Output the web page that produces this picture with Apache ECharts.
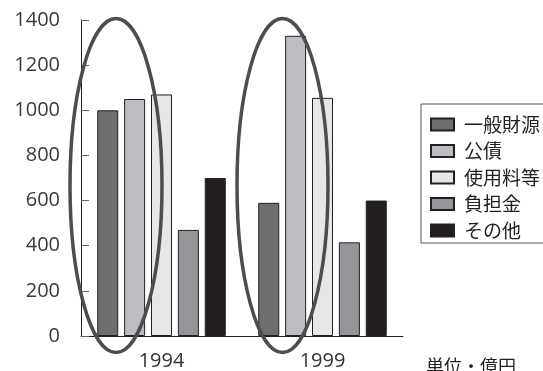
<!DOCTYPE html>
<html>
<head>
<meta charset="utf-8">
<script src="https://cdn.jsdelivr.net/npm/echarts@6/dist/echarts.min.js"></script>
<style>
html,body{margin:0;padding:0;background:#fff;}
#chart{width:543px;height:371px;}
</style>
</head>
<body>
<div id="chart"></div>
<script>
const categories = ['1994', '1999'];
const seriesNames = ['一般財源', '公債', '使用料等', '負担金', 'その他'];
const ippanZaigen = [1000, 590];
const kousai = [1050, 1330];
const shiyouryou = [1070, 1055];
const futankin = [470, 415];
const sonota = [700, 600];
const yTicks = [0, 200, 400, 600, 800, 1000, 1200, 1400];
const unitLabel = '単位・億円';

const seriesValues = [ippanZaigen, kousai, shiyouryou, futankin, sonota];
const colors = ['#6d6e70', '#bcbdc0', '#e6e7e8', '#939598', '#231f20'];

const chart = echarts.init(document.getElementById('chart'));
const numFont = '"Open Sans", "Noto Sans", sans-serif';
const jpFont = '"Noto Sans CJK JP", sans-serif';

chart.setOption({
  animation: false,
  backgroundColor: '#ffffff',
  grid: { left: 81, right: 140, top: 20, bottom: 35 },
  legend: {
    orient: 'vertical',
    left: 421,
    top: 104,
    padding: [11, 14, 3, 9],
    borderColor: '#555',
    borderWidth: 1,
    itemWidth: 23,
    itemHeight: 12,
    itemGap: 7.5,
    icon: 'rect',
    data: seriesNames,
    textStyle: { fontFamily: jpFont, fontSize: 19, color: '#231f20', lineHeight: 19, padding: [0, 0, 0, 5] }
  },
  xAxis: {
    type: 'category',
    data: categories,
    axisLine: { lineStyle: { color: '#231f20', width: 1 } },
    axisTick: { inside: true, length: 8, alignWithLabel: false, lineStyle: { color: '#231f20' } },
    axisLabel: { fontFamily: numFont, fontSize: 20, color: '#333', margin: 15 }
  },
  yAxis: {
    type: 'value',
    min: 0,
    max: 1400,
    interval: 200,
    axisLine: { show: true, lineStyle: { color: '#231f20', width: 1 } },
    axisTick: { show: true, inside: true, length: 8, lineStyle: { color: '#666' } },
    splitLine: { show: false },
    axisLabel: {
      fontFamily: numFont, fontSize: 20, color: '#3a3a3a', margin: 21,
      formatter: v => yTicks.includes(v) ? String(v) : ''
    }
  },
  series: seriesNames.map((name, i) => ({
    name: name,
    type: 'bar',
    data: seriesValues[i],
    barWidth: 21,
    barGap: '28%',
    itemStyle: { color: colors[i], borderColor: '#231f20', borderWidth: 1 }
  })),
  graphic: [
    {
      type: 'ellipse', z: 100,
      shape: { cx: 116, cy: 185.5, rx: 46, ry: 167 },
      style: { fill: 'none', stroke: '#4d4d4f', lineWidth: 3.5 }
    },
    {
      type: 'ellipse', z: 100,
      shape: { cx: 282.5, cy: 185.5, rx: 45.5, ry: 167 },
      style: { fill: 'none', stroke: '#4d4d4f', lineWidth: 3.5 }
    },
    {
      type: 'text', z: 100, left: 426, top: 357,
      style: { text: unitLabel, font: '18px ' + jpFont, fill: '#231f20' }
    }
  ]
});
</script>
</body>
</html>
